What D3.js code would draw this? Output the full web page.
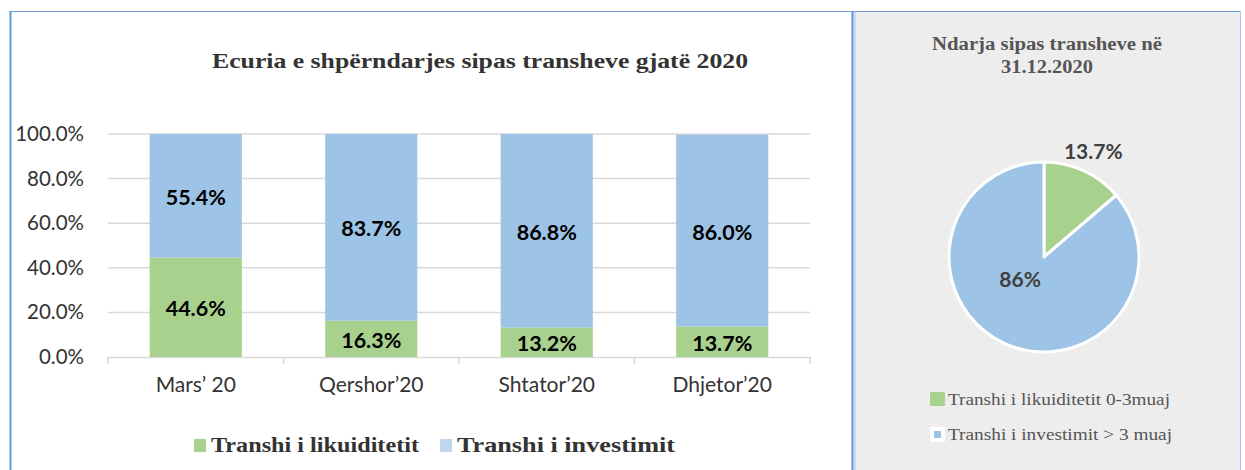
<!DOCTYPE html>
<html><head><meta charset="utf-8">
<script src="https://cdn.jsdelivr.net/npm/d3@7"></script>
<style>body{margin:0;background:#fff;}svg{display:block;}</style>
</head><body>
<script>
const categories = ["Mars’ 20", "Qershor’20", "Shtator’20", "Dhjetor’20"];
const liquidity = [44.6, 16.3, 13.2, 13.7];
const investment = [55.4, 83.7, 86.8, 86.0];
const yTicks = [0, 20, 40, 60, 80, 100];
const seriesNames = ["Transhi i likuiditetit", "Transhi i investimit"];
const pieLabels = ["Transhi i likuiditetit 0-3muaj", "Transhi i investimit > 3 muaj"];
const pieValues = [13.7, 86.0];
const pieText = ["13.7%", "86%"];
const title1 = "Ecuria e shpërndarjes sipas transheve gjatë 2020";
const title2 = ["Ndarja sipas transheve në", "31.12.2020"];

const green = "#a9d18e", blue = "#9dc3e6", blueLegend = "#bdd7ee";
const sans = "Lato, 'Liberation Sans', sans-serif";
const serif = "'Liberation Serif', 'DejaVu Serif', serif";

const W = 1245, H = 470;
const svg = d3.select("body").append("svg").attr("width", W).attr("height", H);

// fit text to a target width
function fit(sel, w) { sel.attr("textLength", w).attr("lengthAdjust", "spacingAndGlyphs"); }

// frames
svg.append("rect").attr("x", 856).attr("y", 11).attr("width", 384).attr("height", H - 11).attr("fill", "#ededed");
svg.append("line").attr("x1", 10).attr("x2", 1240).attr("y1", 11.5).attr("y2", 11.5).attr("stroke", "#6a9fdc").attr("stroke-width", 1);
svg.append("line").attr("x1", 10.5).attr("x2", 10.5).attr("y1", 11).attr("y2", H).attr("stroke", "#5b9bd5").attr("stroke-width", 2);
svg.append("line").attr("x1", 852.5).attr("x2", 852.5).attr("y1", 11).attr("y2", H).attr("stroke", "#5b8fd5").attr("stroke-width", 2);
svg.append("line").attr("x1", 855).attr("x2", 855).attr("y1", 11).attr("y2", H).attr("stroke", "#8fb3e3").attr("stroke-width", 1);
svg.append("line").attr("x1", 1240.5).attr("x2", 1240.5).attr("y1", 11).attr("y2", H).attr("stroke", "#a9c4ea").attr("stroke-width", 1);

// bar chart
const x = d3.scaleBand().domain(categories).range([108, 810]).paddingInner(0.475).paddingOuter(0.2375);
const y = d3.scaleLinear().domain([0, 100]).range([357, 134]);

const grid = svg.append("g");
grid.selectAll("line").data(yTicks.filter(d => d > 0)).join("line")
  .attr("x1", 108).attr("x2", 810).attr("y1", d => y(d)).attr("y2", d => y(d))
  .attr("stroke", "#d9d9d9").attr("stroke-width", 1.5);

const yAxis = svg.append("g").attr("transform", "translate(84,0)")
  .call(d3.axisLeft(y).tickValues(yTicks).tickFormat(d => d.toFixed(1) + "%").tickSize(0).tickPadding(0));
yAxis.select(".domain").remove();
yAxis.selectAll("text").attr("font-family", sans).attr("font-size", 20.5).attr("fill", "#333");

const xAxis = svg.append("g").attr("transform", "translate(0,357)")
  .call(d3.axisBottom(x).tickSize(0).tickPadding(20));
xAxis.select(".domain").remove();
xAxis.selectAll("text").attr("font-family", sans).attr("font-size", 21).attr("fill", "#333");
// axis base line with ticks at band boundaries
const bounds = categories.map(c => x(c) - x.step() * x.paddingInner() / 2).concat([810]);
bounds[0] = 108;
svg.append("line").attr("x1", 108).attr("x2", 810).attr("y1", 357.5).attr("y2", 357.5).attr("stroke", "#d9d9d9").attr("stroke-width", 1.5);
svg.append("g").selectAll("line").data(bounds).join("line")
  .attr("x1", d => d).attr("x2", d => d).attr("y1", 357).attr("y2", 364)
  .attr("stroke", "#d9d9d9").attr("stroke-width", 1.5);

const data = categories.map((c, i) => ({c, a: liquidity[i], b: investment[i]}));
const bars = svg.append("g");
bars.selectAll(".g").data(data).join("rect")
  .attr("x", d => x(d.c)).attr("width", x.bandwidth())
  .attr("y", d => y(d.a)).attr("height", d => y(0) - y(d.a)).attr("fill", green);
bars.selectAll(".b").data(data).join("rect")
  .attr("x", d => x(d.c)).attr("width", x.bandwidth())
  .attr("y", d => y(d.a + d.b)).attr("height", d => y(d.a) - y(d.a + d.b)).attr("fill", blue);

const lbl = svg.append("g").attr("font-family", sans).attr("font-size", 21.5).attr("font-weight", "bold")
  .attr("fill", "#000").attr("text-anchor", "middle").attr("dominant-baseline", "central");
lbl.selectAll(".la").data(data).join("text")
  .attr("x", d => x(d.c) + x.bandwidth() / 2).attr("y", d => y(d.a / 2) + 1).text(d => d.a.toFixed(1) + "%");
lbl.selectAll(".lb").data(data).join("text")
  .attr("x", d => x(d.c) + x.bandwidth() / 2).attr("y", d => y(d.a + d.b / 2) + 1).text(d => d.b.toFixed(1) + "%");

svg.append("text").attr("x", 212).attr("y", 68)
  .attr("font-family", serif).attr("font-weight", "bold").attr("font-size", 22).attr("fill", "#333").text(title1)
  .call(fit, 536);

// bottom legend
const leg = svg.append("g").attr("font-family", serif).attr("font-weight", "bold").attr("font-size", 21).attr("fill", "#333");
const legX = [194, 440];
const legW = [208, 218];
seriesNames.forEach((n, i) => {
  leg.append("rect").attr("x", legX[i]).attr("y", 439).attr("width", 12).attr("height", 13).attr("fill", i ? blueLegend : green);
  leg.append("text").attr("x", legX[i] + 17).attr("y", 452).text(n).call(fit, legW[i]);
});

// pie panel
const t2w = [230, 92];
svg.append("g").attr("font-family", serif).attr("font-weight", "bold").attr("font-size", 18).attr("fill", "#555")
  .selectAll("text").data(title2).join("text").attr("x", (d, i) => 1047 - t2w[i] / 2).attr("y", (d, i) => 50 + i * 23).text(d => d)
  .each(function(d, i) { d3.select(this).call(fit, t2w[i]); });

const cx = 1044, cy = 257, r = 95;
const pie = d3.pie().sort(null).value(d => d)(pieValues);
const arc = d3.arc().innerRadius(0).outerRadius(r);
const pg = svg.append("g").attr("transform", `translate(${cx},${cy})`);
pg.selectAll("path").data(pie).join("path").attr("d", arc)
  .attr("fill", (d, i) => i ? blue : green).attr("stroke", "#fff").attr("stroke-width", 3).attr("stroke-linejoin", "round");
const outArc = d3.arc().innerRadius(r * 1.24).outerRadius(r * 1.24);
const inArc = d3.arc().innerRadius(r * 0.25).outerRadius(r * 0.25);
pg.append("text").attr("transform", `translate(${outArc.centroid(pie[0])})`)
  .attr("text-anchor", "middle").attr("dominant-baseline", "central")
  .attr("font-family", sans).attr("font-weight", "bold").attr("font-size", 21).attr("fill", "#404040").text(pieText[0]);
pg.append("text").attr("transform", `translate(${inArc.centroid(pie[1])})`).attr("dx", -14)
  .attr("text-anchor", "middle").attr("dominant-baseline", "central")
  .attr("font-family", sans).attr("font-weight", "bold").attr("font-size", 21).attr("fill", "#404040").text(pieText[1]);

const pl = svg.append("g").attr("font-family", serif).attr("font-size", 17).attr("fill", "#555");
const plW = [222, 224];
pieLabels.forEach((n, i) => {
  const yy = 392 + i * 35;
  if (i === 0) pl.append("rect").attr("x", 930).attr("y", yy).attr("width", 15).attr("height", 14).attr("rx", 1.5).attr("fill", green);
  else {
    pl.append("rect").attr("x", 930).attr("y", yy).attr("width", 15).attr("height", 15).attr("fill", "#fff");
    pl.append("rect").attr("x", 934).attr("y", yy + 4).attr("width", 7).attr("height", 7).attr("fill", blue);
  }
  pl.append("text").attr("x", 948).attr("y", yy + 12.5).text(n).call(fit, plW[i]);
});
</script>
</body></html>
